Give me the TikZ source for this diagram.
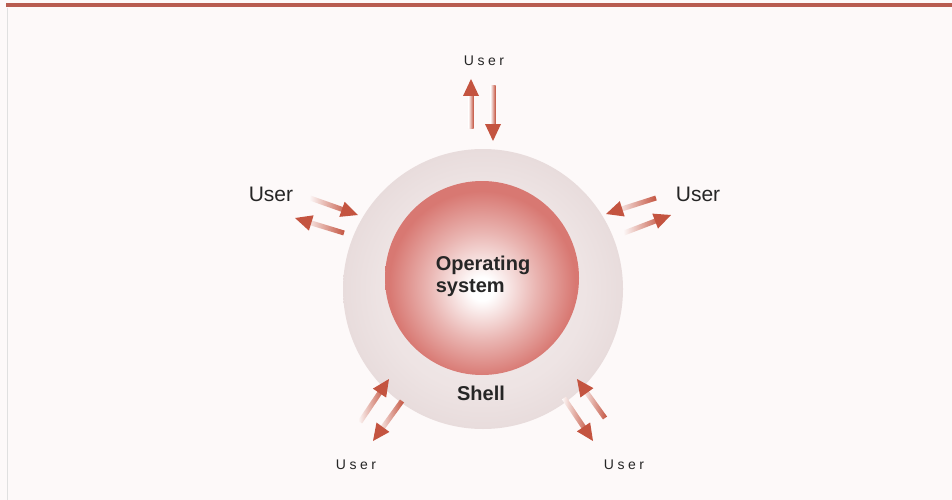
\documentclass[tikz,border=0pt]{standalone}
\usepackage{fontspec}
\setmainfont{Liberation Sans}
\newfontfamily\spacedfont[LetterSpace=25]{Liberation Sans}
\usetikzlibrary{calc}
\definecolor{bgpink}{RGB}{253,249,249}
\definecolor{barred}{RGB}{184,92,80}
\definecolor{shellgray}{RGB}{238,228,228}
\definecolor{shelledge}{RGB}{232,220,220}
\definecolor{osred}{RGB}{216,120,114}
\definecolor{arrred}{RGB}{196,84,64}
\pgfdeclareradialshading{osball}{\pgfpoint{0bp}{-3bp}}{%
  color(0bp)=(white); color(3bp)=(white); color(14bp)=(osred!55!white);
  color(24bp)=(osred); color(50bp)=(osred)}
\pgfdeclareradialshading{shellball}{\pgfpoint{0bp}{0bp}}{%
  color(0bp)=(shellgray!70!white); color(18bp)=(shellgray); color(25bp)=(shelledge); color(50bp)=(shelledge)}
\tikzset{
  userlbl/.style={font=\fontsize{21}{23}\selectfont, text=black!85},
  userspaced/.style={font=\spacedfont\fontsize{14}{16}\selectfont, text=black!85},
  boldlbl/.style={font=\bfseries\fontsize{20}{22}\selectfont, text=black!85, align=left},
  pics/farrow/.style={code={
    \shade[left color=bgpink, right color=arrred, draw=none]
      (0pt,-2.5pt) rectangle (#1-10pt,2.5pt);
    \fill[arrred] (#1,0pt) -- (#1-17pt,8pt) -- (#1-17pt,-8pt) -- cycle;
  }}
}
\newcommand{\fadearrow}[2]{%
  \path let \p1=($(#2)-(#1)$), \n1={atan2(\y1,\x1)}, \n2={veclen(\x1,\y1)} in
    (#1) pic[rotate=\n1] {farrow=\n2};}
\begin{document}
\begin{tikzpicture}[x=1pt,y=-1pt]
\useasboundingbox (0,0) rectangle (952,500);
\fill[bgpink] (0,0) rectangle (952,500);
\fill[barred] (6,3) rectangle (952,7);
\draw[black!12, line width=0.8pt] (7,8) -- (7,500);
% shell and OS
\coordinate (c) at (483,289);
\shade[shading=shellball] (c) circle[radius=140];
\shade[shading=osball] (482,278) circle[radius=97];
\node[boldlbl] (os) at (483,276) {Operating\\system};
\node[boldlbl] (shell) at (481,393) {Shell};
% labels
\node[userspaced] (u1) at (484,61) {User};
\node[userlbl] (u2) at (271,194) {User};
\node[userlbl] (u3) at (698,194) {User};
\node[userspaced] (u4) at (356,465) {User};
\node[userspaced] (u5) at (624,465) {User};
% arrow end points
\coordinate (a1s) at (471,128); \coordinate (a1e) at (471,79);
\coordinate (b1s) at (493,86);  \coordinate (b1e) at (493,141);
\coordinate (a2s) at (310,198); \coordinate (a2e) at (358,215);
\coordinate (b2s) at (344,233); \coordinate (b2e) at (295,218);
\coordinate (a3s) at (656,198); \coordinate (a3e) at (606,214);
\coordinate (b3s) at (624,233); \coordinate (b3e) at (671,215);
\coordinate (a4s) at (360,422); \coordinate (a4e) at (389,379);
\coordinate (b4s) at (402,401); \coordinate (b4e) at (373,441);
\coordinate (a5s) at (605,418); \coordinate (a5e) at (577,379);
\coordinate (b5s) at (564,398); \coordinate (b5e) at (593,441);
\fadearrow{a1s}{a1e}
\fadearrow{b1s}{b1e}
\fadearrow{a2s}{a2e}
\fadearrow{b2s}{b2e}
\fadearrow{a3s}{a3e}
\fadearrow{b3s}{b3e}
\fadearrow{a4s}{a4e}
\fadearrow{b4s}{b4e}
\fadearrow{a5s}{a5e}
\fadearrow{b5s}{b5e}
\end{tikzpicture}
\end{document}
